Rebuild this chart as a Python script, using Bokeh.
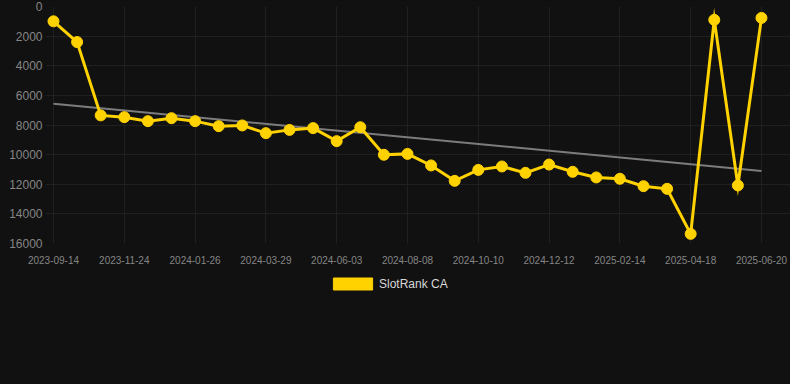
import numpy as np
from bokeh.plotting import figure
from bokeh.layouts import column
from bokeh.models import Range1d, FixedTicker, Legend, LegendItem, ColumnDataSource
from bokeh.embed import file_html
from bokeh.resources import INLINE

# SlotRank CA ranking values, one per observation (evenly spaced on the x axis)
ranks = [1000, 2400, 7350, 7470, 7740, 7540, 7740, 8080, 8030, 8550,
         8330, 8210, 9090, 8150, 10010, 9950, 10730, 11770, 11030, 10800,
         11230, 10670, 11160, 11540, 11630, 12130, 12310, 15350, 900, 12080,
         770]
# tick labels shown every third observation
tick_labels = ["2023-09-14", "2023-11-24", "2024-01-26", "2024-03-29",
               "2024-06-03", "2024-08-08", "2024-10-10", "2024-12-12",
               "2025-02-14", "2025-04-18", "2025-06-20"]
y_ticks = [0, 2000, 4000, 6000, 8000, 10000, 12000, 14000, 16000]
series_name = "SlotRank CA"

idx = list(range(len(ranks)))
tick_pos = idx[::3]

slope, intercept = np.polyfit(idx, ranks, 1)
trend_x = [idx[0], idx[-1]]
trend_y = [intercept + slope * idx[0], intercept + slope * idx[-1]]

BG = "#111111"
YELLOW = "#FFD200"
FONT = "Liberation Sans"
bg_style = {"background-color": BG}

p = figure(width=790, height=270, output_backend="svg", toolbar_location=None,
           x_range=Range1d(-0.339, 31.23), y_range=Range1d(16000, 0),
           background_fill_color=BG, border_fill_color=BG,
           outline_line_color=None, styles=bg_style,
           min_border_left=45, min_border_right=0, min_border_top=6,
           min_border_bottom=27)

p.xgrid.grid_line_color = "#202020"
p.ygrid.grid_line_color = "#202020"
p.xgrid.ticker = FixedTicker(ticks=tick_pos)
p.ygrid.ticker = FixedTicker(ticks=y_ticks)

p.xaxis.ticker = FixedTicker(ticks=tick_pos)
p.xaxis.major_label_overrides = {pos: lab for pos, lab in zip(tick_pos, tick_labels)}
p.yaxis.ticker = FixedTicker(ticks=y_ticks)

for ax in (p.xaxis[0], p.yaxis[0]):
    ax.axis_line_color = None
    ax.major_tick_line_color = None
    ax.minor_tick_line_color = None
    ax.major_tick_out = 0
    ax.major_tick_in = 0
    ax.minor_tick_out = 0
    ax.major_label_text_color = "#858585"
    ax.major_label_text_font = FONT

p.xaxis.major_label_text_font_size = "10px"
p.xaxis.major_label_standoff = 12
p.yaxis.major_label_text_font_size = "12px"
p.yaxis.major_label_standoff = 3

src = ColumnDataSource(data=dict(x=idx, y=ranks))

p.line(trend_x, trend_y, line_color="#7c7c7c", line_width=2)
p.line("x", "y", source=src, line_color=YELLOW, line_width=3, line_join="miter")
p.scatter("x", "y", source=src, size=11, fill_color=YELLOW, line_color=YELLOW)

# legend strip below the chart
lf = figure(width=790, height=114, output_backend="svg", toolbar_location=None,
            x_range=Range1d(0, 1), y_range=Range1d(0, 1),
            x_axis_location=None, y_axis_location=None,
            background_fill_color=BG, border_fill_color=BG,
            outline_line_color=None, styles=bg_style,
            min_border_left=45, min_border_right=0, min_border_top=0,
            min_border_bottom=0)
lf.grid.visible = False
# legend swatch renderer (placed outside the visible range)
dummy = lf.quad(left=[5], right=[6], top=[5], bottom=[4], fill_color=YELLOW,
                line_color=YELLOW)

legend = Legend(items=[LegendItem(label=series_name, renderers=[dummy])],
                orientation="horizontal", location=(283, 93),
                background_fill_alpha=0, border_line_color=None,
                glyph_width=49, glyph_height=15, label_standoff=2,
                label_text_font=FONT, label_text_font_size="12px",
                label_text_color="#d8d8d8", label_height=15,
                margin=0, padding=4)
lf.add_layout(legend, "center")

layout = column(p, lf, spacing=0, styles=bg_style)

open("out.html", "w").write(file_html(layout, INLINE))
